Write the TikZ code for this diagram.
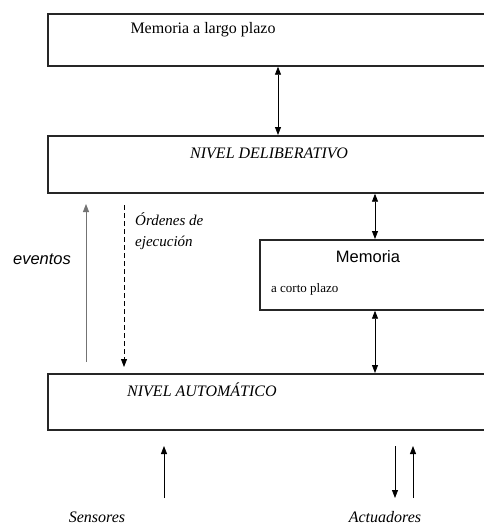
\documentclass[tikz,border=0pt]{standalone}
\usepackage{fontspec}
\setmainfont{Liberation Serif}
\setsansfont{Liberation Sans}
\usetikzlibrary{arrows.meta}
\begin{document}
\begin{tikzpicture}[x=1pt,y=-1pt,
  panel/.style={draw=black!85,line width=1.7pt,fill=white,anchor=north west,
    inner sep=0pt,minimum width=460pt},
  link/.style={line width=0.8pt,{Triangle[width=6pt,length=8pt]}-{Triangle[width=6pt,length=8pt]}},
  upflow/.style={line width=0.8pt,-{Triangle[width=6pt,length=8pt]}},
  lbl/.style={inner sep=0pt,font=\fontsize{16}{18}\selectfont},
  ilbl/.style={lbl,font=\fontsize{16}{18}\selectfont\itshape}]
\useasboundingbox (0,0) rectangle (484,525);
\clip (0,0) rectangle (484,525);

% memory and level boxes
\node[panel,minimum height=52pt] (mlp) at (47,13) {};
\node[panel,minimum height=57pt] (delib) at (47,135) {};
\node[panel,minimum height=70pt] (mcp) at (259,239) {};
\node[panel,minimum height=56pt] (auto) at (47,373) {};

% box texts
\node[lbl] (tmlp) at (203,30) {Memoria a largo plazo};
\node[ilbl] (tdelib) at (269,153) {NIVEL DELIBERATIVO};
\node[lbl,font=\fontsize{16.5}{18}\sffamily] (tmcp) at (368,257) {Memoria};
\node[lbl,font=\fontsize{13}{15}\selectfont,anchor=west] (tmcp2) at (271,289) {a corto plazo};
\node[ilbl,anchor=west] (tauto) at (127,390) {NIVEL AUTOMÁTICO};

% side labels
\node[ilbl,font=\fontsize{16.5}{18}\sffamily\itshape] (tev) at (42,259) {eventos};
\node[ilbl,font=\fontsize{15}{17}\selectfont\itshape,anchor=west] (tord1) at (135,219) {Órdenes de};
\node[ilbl,font=\fontsize{15}{17}\selectfont\itshape,anchor=west] (tord2) at (135,243) {ejecución};
\node[ilbl] (tsens) at (97,517) {Sensores};
\node[ilbl] (tact) at (385,517) {Actuadores};

% free arrow ends
\coordinate (evA) at (86,362);
\coordinate (evB) at (86,204);
\coordinate (orA) at (124,205);
\coordinate (orB) at (124,367);
\coordinate (seA) at (164,498);
\coordinate (seB) at (164,446);
\coordinate (acA) at (395,446);
\coordinate (acB) at (395,498);
\coordinate (acC) at (413,498);
\coordinate (acD) at (413,446);

% connectors
\draw[link] (mlp.south -| 278,0) -- (delib.north -| 278,0);
\draw[link] (delib.south -| 375,0) -- (mcp.north -| 375,0);
\draw[link] (mcp.south -| 375,0) -- (auto.north -| 375,0);
\draw[upflow,draw=black!55] (evA) -- (evB);
\draw[upflow,dashed,dash pattern=on 5pt off 3pt] (orA) -- (orB);
\draw[upflow] (seA) -- (seB);
\draw[upflow] (acA) -- (acB);
\draw[upflow] (acC) -- (acD);
\end{tikzpicture}
\end{document}
